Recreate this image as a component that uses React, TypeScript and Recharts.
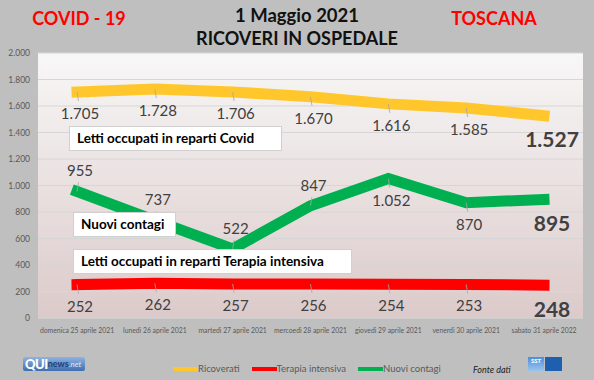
import React from 'react';
import { LineChart, Line, XAxis, YAxis, CartesianGrid } from 'recharts';

const categories = [
  'domenica 25 aprile 2021',
  'lunedì 26 aprile 2021',
  'martedì 27 aprile 2021',
  'mercoedì 28 aprile 2021',
  'giovedì 29 aprile 2021',
  'venerdì 30 aprile 2021',
  'sabato 31 aprile 2022',
];
const ricoverati = [1705, 1728, 1706, 1670, 1616, 1585, 1527];
const terapiaIntensiva = [252, 262, 257, 256, 254, 253, 248];
const nuoviContagi = [955, 737, 522, 847, 1052, 870, 895];
const yTicks = [0, 200, 400, 600, 800, 1000, 1200, 1400, 1600, 1800, 2000];

const data = categories.map((c, i) => ({
  day: c,
  ricoverati: ricoverati[i],
  terapia: terapiaIntensiva[i],
  contagi: nuoviContagi[i],
}));

const YELLOW = '#ffc72c';
const RED = '#ff0000';
const GREEN = '#00b050';
const FONT = 'Lato, "Open Sans", sans-serif';

const fmt = (v: number) => String(v).replace(/\B(?=(\d{3})+(?!\d))/g, '.');

type Place = 'above' | 'below';

const makeLabel = (placements: Place[]) => (props: any) => {
  const x = props.x ?? props.viewBox?.x;
  const y = props.y ?? props.viewBox?.y;
  const { value, index } = props;
  if (x == null || y == null) return null;
  const last = index === placements.length - 1;
  const below = placements[index] === 'below';
  const dy = last ? 23 : below ? 21 : -21;
  const dx = last ? 8 : 3;
  return (
    <g key={`lbl-${index}`}>
      {!last && (
        <line
          x1={x}
          y1={y}
          x2={x + 1.5}
          y2={below ? y + 9 : y - 9}
          stroke="#a6a6a6"
          strokeWidth={0.8}
        />
      )}
      <text
        x={x + dx}
        y={y + dy}
        textAnchor="middle"
        dominantBaseline="central"
        fontSize={last ? 21 : 15}
        fontWeight={last ? 700 : 400}
        fill="#404040"
        fontFamily={FONT}
      >
        {fmt(value)}
      </text>
    </g>
  );
};

const belowAll: Place[] = ['below', 'below', 'below', 'below', 'below', 'below', 'below'];
const contagiPlaces: Place[] = ['above', 'above', 'above', 'above', 'below', 'below', 'below'];

const legendItems = [
  { label: 'Ricoverati', color: YELLOW },
  { label: 'Terapia intensiva', color: RED },
  { label: 'Nuovi contagi', color: GREEN },
];

const boxStyle = (left: number, top: number, width: number): React.CSSProperties => ({
  position: 'absolute',
  left,
  top,
  width,
  height: 25,
  background: '#ffffff',
  border: '1px solid #d0d0d0',
  boxSizing: 'border-box',
  fontFamily: FONT,
  fontWeight: 700,
  fontSize: 13.5,
  color: '#000',
  lineHeight: '23px',
  paddingLeft: 7,
  whiteSpace: 'nowrap',
});

const titleStyle = (left: number, top: number, color: string, width = 200): React.CSSProperties => ({
  position: 'absolute',
  left,
  top,
  width,
  textAlign: 'center',
  fontFamily: FONT,
  fontWeight: 700,
  fontSize: 18,
  color,
  lineHeight: '22px',
  whiteSpace: 'nowrap',
});

export default function App() {
  return (
    <div style={{ position: 'absolute', left: 0, top: 0, width: 594, height: 380, background: '#bfbfbf', overflow: 'hidden' }}>
      <div style={titleStyle(-21, 7, RED)}>COVID - 19</div>
      <div style={titleStyle(394, 7, RED)}>TOSCANA</div>
      <div style={{ ...titleStyle(147, 4, '#111'), width: 300, fontSize: 18.5 }}>1 Maggio 2021</div>
      <div style={{ ...titleStyle(147, 27, '#111'), width: 300 }}>RICOVERI IN OSPEDALE</div>

      <div style={{ position: 'absolute', left: 0, top: 0 }}>
        <LineChart width={594} height={380} data={data} margin={{ top: 53, right: 11, bottom: 42, left: 0 }}>
          <defs>
            <linearGradient id="plotBg" x1="0" y1="0" x2="0" y2="1">
              <stop offset="0%" stopColor="#f8f7f7" />
              <stop offset="100%" stopColor="#dccaca" />
            </linearGradient>
          </defs>
          <CartesianGrid vertical={false} stroke="#d6d6d6" fill="url(#plotBg)" fillOpacity={1} />
          <XAxis
            dataKey="day"
            height={20}
            padding={{ left: 39, right: 39 }}
            interval={0}
            tickLine={false}
            axisLine={{ stroke: '#d0d0d0' }}
            tick={{ fontSize: 6.8, fill: '#595959', fontFamily: FONT }}
            tickMargin={4}
          />
          <YAxis
            width={38}
            domain={[0, 2000]}
            ticks={yTicks}
            interval={0}
            axisLine={false}
            tickLine={false}
            tickFormatter={fmt}
            tick={{ fontSize: 8.5, fill: '#595959', fontFamily: FONT }}
          />
          <Line
            dataKey="ricoverati"
            name="Ricoverati"
            stroke={YELLOW}
            strokeWidth={11}
            strokeLinecap="square"
            dot={false}
            activeDot={false}
            isAnimationActive={false}
            label={makeLabel(belowAll)}
          />
          <Line
            dataKey="terapia"
            name="Terapia intensiva"
            stroke={RED}
            strokeWidth={11}
            strokeLinecap="square"
            dot={false}
            activeDot={false}
            isAnimationActive={false}
            label={makeLabel(belowAll)}
          />
          <Line
            dataKey="contagi"
            name="Nuovi contagi"
            stroke={GREEN}
            strokeWidth={11}
            strokeLinecap="square"
            dot={false}
            activeDot={false}
            isAnimationActive={false}
            label={makeLabel(contagiPlaces)}
          />
        </LineChart>
      </div>

      {/* Legend */}
      <div
        style={{
          position: 'absolute',
          left: 173,
          top: 363,
          display: 'flex',
          alignItems: 'center',
          fontFamily: FONT,
          fontSize: 9.5,
          color: '#595959',
          lineHeight: '12px',
        }}
      >
        {legendItems.map((it) => (
          <div key={it.label} style={{ display: 'flex', alignItems: 'center', marginRight: 12 }}>
            <span style={{ display: 'inline-block', width: 25, height: 4, background: it.color }} />
            <span style={{ whiteSpace: 'nowrap' }}>{it.label}</span>
          </div>
        ))}
      </div>

      <div style={boxStyle(69, 126, 213)}>Letti occupati in reparti Covid</div>
      <div style={boxStyle(73, 212, 103)}>Nuovi contagi</div>
      <div style={boxStyle(73, 249, 279)}>Letti occupati in reparti Terapia intensiva</div>

      {/* QUInews logo */}
      <div
        style={{
          position: 'absolute',
          left: 23,
          top: 357,
          width: 62,
          height: 14,
          borderRadius: 2,
          background: 'linear-gradient(#8fb3e0, #3f6fb0)',
          fontFamily: FONT,
          display: 'flex',
          alignItems: 'flex-end',
          paddingLeft: 2,
          boxSizing: 'border-box',
          lineHeight: '14px',
        }}
      >
        <span style={{ color: '#fff', fontWeight: 900, fontSize: 13, letterSpacing: -0.5 }}>QUI</span>
        <span style={{ color: '#1c3f7a', fontWeight: 700, fontSize: 9 }}>news</span>
        <span style={{ color: '#dbe8f8', fontStyle: 'italic', fontSize: 8 }}>.net</span>
      </div>

      <div
        style={{
          position: 'absolute',
          left: 473,
          top: 364,
          fontFamily: FONT,
          fontStyle: 'italic',
          fontSize: 9,
          color: '#222',
          whiteSpace: 'nowrap',
        }}
      >
        Fonte dati
      </div>

      {/* SST logo */}
      <div style={{ position: 'absolute', left: 528, top: 357, width: 34, height: 14, display: 'flex' }}>
        <div style={{ width: 16, height: 14, background: 'linear-gradient(#4d8fd6, #9cc3ee)', color: '#fff', fontSize: 6, fontWeight: 700, fontFamily: FONT, textAlign: 'center', lineHeight: '8px' }}>
          SST
        </div>
        <div style={{ width: 1, height: 14 }} />
        <div style={{ width: 17, height: 14, background: '#1f5fb0' }} />
      </div>
    </div>
  );
}
